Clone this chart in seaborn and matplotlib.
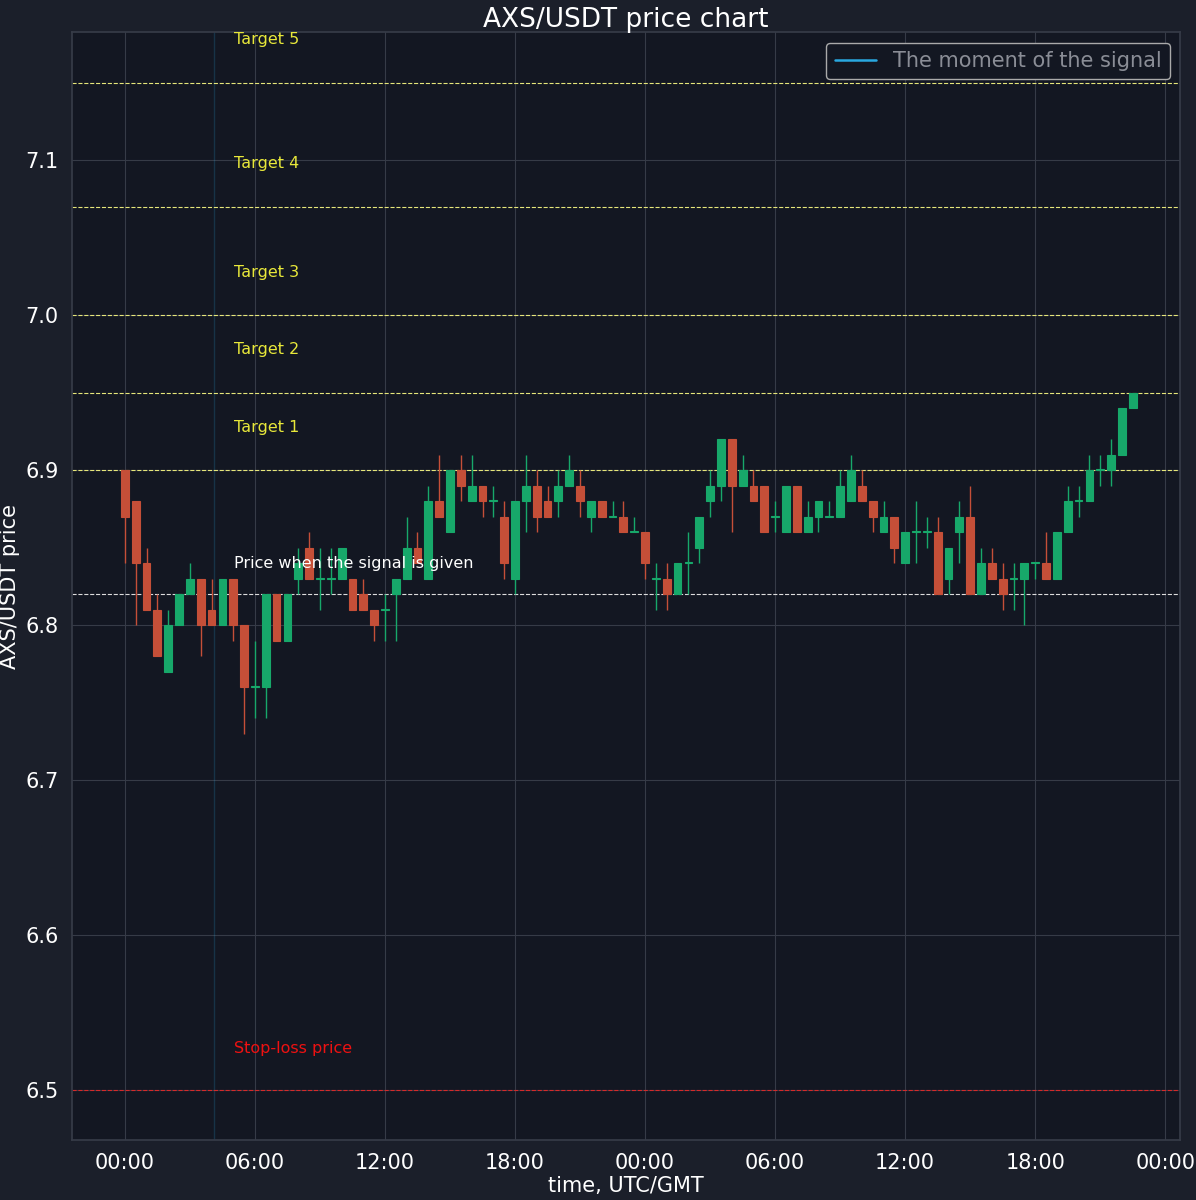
import numpy as np
import pandas as pd
import matplotlib
matplotlib.use("Agg")
import matplotlib.pyplot as plt
import seaborn as sns

# half-hourly candles starting at 00:00 (hours offset)
opens  = [6.90,6.88,6.84,6.81,6.77,6.80,6.82,6.83,6.81,6.80,6.83,6.80,6.76,6.76,6.82,6.79,6.83,6.85,6.83,6.83,
          6.83,6.83,6.82,6.81,6.81,6.82,6.83,6.85,6.83,6.88,6.86,6.90,6.88,6.89,6.88,6.87,6.83,6.88,6.89,6.88,
          6.88,6.89,6.89,6.87,6.88,6.87,6.87,6.86,6.86,6.83,6.83,6.82,6.84,6.85,6.88,6.89,6.92,6.89,6.89,6.89,
          6.87,6.86,6.89,6.86,6.87,6.87,6.87,6.88,6.89,6.88,6.86,6.87,6.84,6.86,6.86,6.86,6.83,6.86,6.87,6.82,
          6.84,6.83,6.83,6.83,6.84,6.84,6.83,6.86,6.88,6.88,6.90,6.90,6.91,6.94]
closes = [6.87,6.84,6.81,6.78,6.80,6.82,6.83,6.80,6.80,6.83,6.80,6.76,6.76,6.82,6.79,6.82,6.84,6.83,6.83,6.83,
          6.85,6.81,6.81,6.80,6.81,6.83,6.85,6.84,6.88,6.87,6.90,6.89,6.89,6.88,6.88,6.84,6.88,6.89,6.87,6.87,
          6.89,6.90,6.88,6.88,6.87,6.87,6.86,6.86,6.84,6.83,6.82,6.84,6.84,6.87,6.89,6.92,6.89,6.90,6.88,6.86,
          6.87,6.89,6.86,6.87,6.88,6.87,6.89,6.90,6.88,6.87,6.87,6.85,6.86,6.86,6.86,6.82,6.85,6.87,6.82,6.84,
          6.83,6.82,6.83,6.84,6.84,6.83,6.86,6.88,6.88,6.90,6.90,6.91,6.94,6.95]
highs  = [6.90,6.88,6.85,6.82,6.81,6.82,6.84,6.83,6.83,6.83,6.83,6.80,6.79,6.82,6.82,6.82,6.85,6.86,6.85,6.85,
          6.85,6.83,6.83,6.81,6.82,6.83,6.87,6.86,6.89,6.91,6.90,6.91,6.91,6.89,6.89,6.88,6.88,6.91,6.90,6.89,
          6.90,6.91,6.90,6.88,6.88,6.88,6.88,6.87,6.86,6.84,6.84,6.84,6.86,6.87,6.90,6.92,6.92,6.91,6.90,6.89,
          6.88,6.89,6.89,6.88,6.88,6.88,6.90,6.91,6.90,6.88,6.88,6.87,6.86,6.88,6.87,6.87,6.85,6.88,6.89,6.85,
          6.85,6.84,6.84,6.84,6.84,6.86,6.86,6.89,6.89,6.91,6.91,6.92,6.94,6.95]
lows   = [6.84,6.80,6.81,6.78,6.77,6.80,6.82,6.78,6.80,6.80,6.79,6.73,6.74,6.74,6.79,6.79,6.82,6.83,6.81,6.82,
          6.83,6.81,6.81,6.79,6.79,6.79,6.83,6.84,6.83,6.87,6.86,6.88,6.88,6.87,6.87,6.83,6.82,6.86,6.86,6.87,
          6.87,6.89,6.87,6.86,6.87,6.87,6.86,6.86,6.83,6.81,6.81,6.82,6.82,6.84,6.87,6.88,6.86,6.89,6.88,6.86,
          6.86,6.86,6.86,6.86,6.86,6.87,6.87,6.88,6.88,6.86,6.86,6.84,6.84,6.84,6.85,6.82,6.82,6.84,6.82,6.82,
          6.83,6.81,6.81,6.80,6.83,6.83,6.83,6.86,6.87,6.88,6.89,6.89,6.91,6.94]
times = np.arange(len(opens)) * 0.5

signal_time = 4.1
entry_price = 6.82
stop_loss = 6.50
target_names = ["Target 1", "Target 2", "Target 3", "Target 4", "Target 5"]
target_prices = [6.90, 6.95, 7.00, 7.07, 7.15]
tick_hours = [0, 6, 12, 18, 24, 30, 36, 42, 48]
tick_labels = ["00:00", "06:00", "12:00", "18:00", "00:00", "06:00", "12:00", "18:00", "00:00"]

df = pd.DataFrame({"t": times, "open": opens, "close": closes, "high": highs, "low": lows})
df["up"] = df["close"] >= df["open"]

sns.set_theme(style="darkgrid")
plt.rcParams["font.family"] = ["DejaVu Sans"]
FIG_BG = "#1b1f2a"; AX_BG = "#131722"
GREEN = "#17a86a"; RED = "#c54f38"

fig, ax = plt.subplots(figsize=(11.96, 12), dpi=100)
fig.patch.set_facecolor(FIG_BG)
ax.set_facecolor(AX_BG)
ax.grid(True, color="#363b47", linewidth=0.8)
for s in ax.spines.values():
    s.set_color("#363b47")

colors = np.where(df["up"], GREEN, RED)
ax.vlines(df["t"], df["low"], df["high"], colors=colors, linewidth=1, zorder=2)
bottoms = np.minimum(df["open"], df["close"])
heights = np.abs(df["close"] - df["open"])
heights = np.where(heights < 1e-9, 0.0006, heights)
ax.bar(df["t"], heights, bottom=bottoms, width=0.36, color=colors, edgecolor=colors, linewidth=0.8, zorder=3)

sns.lineplot(x=[signal_time, signal_time], y=[6.40, 7.30], color="#29a8e0", linewidth=1.8,
             ax=ax, label="The moment of the signal", zorder=4)

for name, p in zip(target_names, target_prices):
    ax.axhline(p, color="#e6e67a", linestyle="--", linewidth=0.8, zorder=1)
    ax.text(5.05, p + 0.025, name, color="#e8e83a", fontsize=11.5)
ax.axhline(entry_price, color="#dddddd", linestyle="--", linewidth=0.8, zorder=1)
ax.text(5.05, entry_price + 0.017, "Price when the signal is given", color="white", fontsize=11.5)
ax.axhline(stop_loss, color="#d42a2a", linestyle="--", linewidth=0.8, zorder=1)
ax.text(5.05, stop_loss + 0.024, "Stop-loss price", color="#ee1111", fontsize=11.5)

ax.set_xlim(-2.45, 48.7)
ax.set_ylim(6.468, 7.1826)
ax.set_xticks(tick_hours)
ax.set_xticklabels(tick_labels)
ax.tick_params(colors="white", labelsize=15)
ax.set_xlabel("time, UTC/GMT", color="white", fontsize=15, labelpad=2)
ax.set_ylabel("AXS/USDT price", color="white", fontsize=15)
ax.set_title("AXS/USDT price chart", color="white", fontsize=19, pad=4)
leg = ax.legend(loc="upper right", fontsize=15, facecolor=AX_BG, edgecolor="#aaaaaa", framealpha=1)
for t in leg.get_texts():
    t.set_color("#8a8d96")

plt.subplots_adjust(left=0.06, right=0.987, top=0.973, bottom=0.05)
fig.savefig("out.png", dpi=100, facecolor=FIG_BG)
